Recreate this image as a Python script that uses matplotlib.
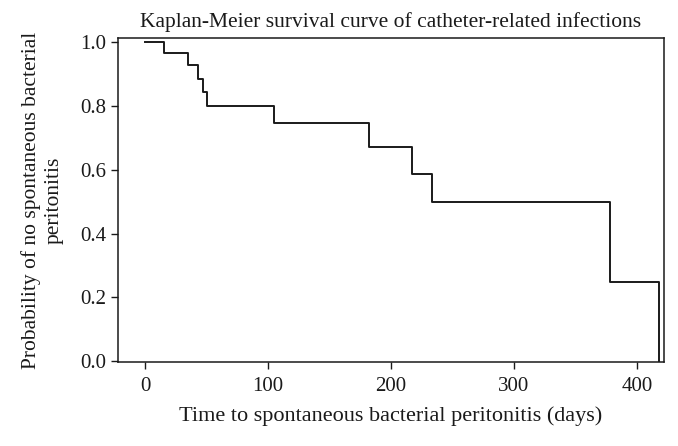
import numpy as np
import matplotlib.pyplot as plt

# Kaplan-Meier step values
times = [0, 15, 35, 43, 47, 50, 105, 182, 217, 233, 378, 418]
surv = [1.0, 0.966, 0.928, 0.884, 0.843, 0.799, 0.746, 0.671, 0.588, 0.50, 0.25, 0.0]

xticks = [0, 100, 200, 300, 400]
yticks = [0.0, 0.2, 0.4, 0.6, 0.8, 1.0]

plt.rcParams['font.family'] = ['Liberation Serif', 'DejaVu Serif']

fig = plt.figure(figsize=(6.78, 4.46), dpi=100)
ax = fig.add_axes([118/678, 1-362/446, (664-118)/678, (362-38)/446])

ax.step(times, surv, where='post', color='#1a1a1a', lw=1.4)

ax.set_xlim(-22, 422)
ax.set_ylim(-0.002, 1.0125)
ax.set_xticks(xticks)
ax.set_yticks(yticks)
ax.set_yticklabels(['%.1f' % v for v in yticks])
ax.tick_params(axis='both', direction='out', length=5, width=1, labelsize=15, colors='#1a1a1a')
ax.tick_params(axis='x', pad=6)
for s in ax.spines.values():
    s.set_linewidth(1.1)
    s.set_color('#1a1a1a')

ax.set_title('Kaplan-Meier survival curve of catheter-related infections', fontsize=15.5, pad=8, color='#1a1a1a')
ax.set_xlabel('Time to spontaneous bacterial peritonitis (days)', fontsize=16, labelpad=7, color='#1a1a1a')
ax.set_ylabel('Probability of no spontaneous bacterial\nperitonitis', fontsize=15.5, labelpad=12,
              linespacing=1.25, color='#1a1a1a')

fig.savefig('out.png', dpi=100)
